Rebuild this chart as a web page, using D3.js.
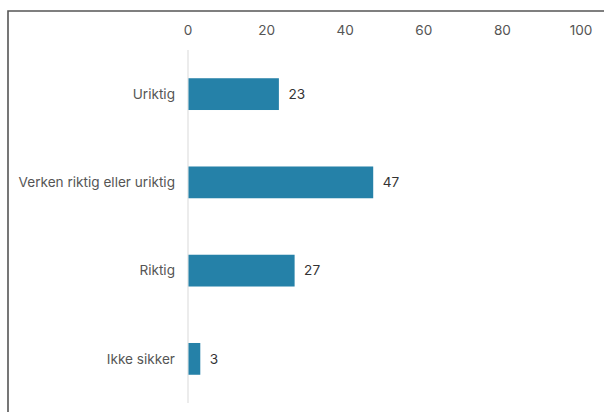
<!DOCTYPE html>
<html>
<head>
<meta charset="utf-8">
<script src="https://cdn.jsdelivr.net/npm/d3@7"></script>
<style>
  html, body { margin: 0; padding: 0; background: #fff; }
  svg { display: block; font-family: Inter, "Noto Sans", sans-serif; }
</style>
</head>
<body>
<svg id="chart" width="604" height="412"></svg>
<script>
(function(){
  var categories = ['Uriktig', 'Verken riktig eller uriktig', 'Riktig', 'Ikke sikker'];
  var values = [23, 47, 27, 3];
  var ticks = [0, 20, 40, 60, 80, 100];

  var svg = d3.select('#chart');

  // frame (only top and left edges visible)
  svg.append('path')
    .attr('d', 'M8,412 V11 H604')
    .attr('fill', 'none')
    .attr('stroke', '#555')
    .attr('stroke-width', 1.6);

  var x = d3.scaleLinear().domain([0, 100]).range([188, 581]);
  var y = d3.scaleBand().domain(categories).range([50, 403])
    .paddingInner(0.64).paddingOuter(0.32);

  // top axis, labels only
  svg.append('g')
    .selectAll('text')
    .data(ticks)
    .enter()
    .append('text')
    .attr('x', function(d) { return x(d); })
    .attr('y', 30)
    .attr('dy', '0.35em')
    .attr('text-anchor', 'middle')
    .attr('font-size', 13.6)
    .attr('fill', '#555')
    .text(function(d) { return d; });

  // zero line
  svg.append('line')
    .attr('x1', x(0)).attr('x2', x(0))
    .attr('y1', 50).attr('y2', 403)
    .attr('stroke', '#d9d9d9')
    .attr('stroke-width', 1);

  var rows = svg.append('g')
    .selectAll('g')
    .data(categories)
    .enter()
    .append('g');

  rows.append('rect')
    .attr('x', x(0) + 0.5)
    .attr('y', function(d) { return y(d); })
    .attr('width', function(d, i) { return x(values[i]) - x(0); })
    .attr('height', y.bandwidth())
    .attr('fill', '#2581a8');

  rows.append('text')
    .attr('x', x(0) - 13)
    .attr('y', function(d) { return y(d) + y.bandwidth() / 2; })
    .attr('dy', '0.35em')
    .attr('text-anchor', 'end')
    .attr('font-size', 13.6)
    .attr('fill', '#555')
    .text(function(d) { return d; });

  rows.append('text')
    .attr('x', function(d, i) { return x(values[i]) + 10; })
    .attr('y', function(d) { return y(d) + y.bandwidth() / 2; })
    .attr('dy', '0.35em')
    .attr('font-size', 13.6)
    .attr('fill', '#333')
    .text(function(d, i) { return values[i]; });
})();
</script>
</body>
</html>
